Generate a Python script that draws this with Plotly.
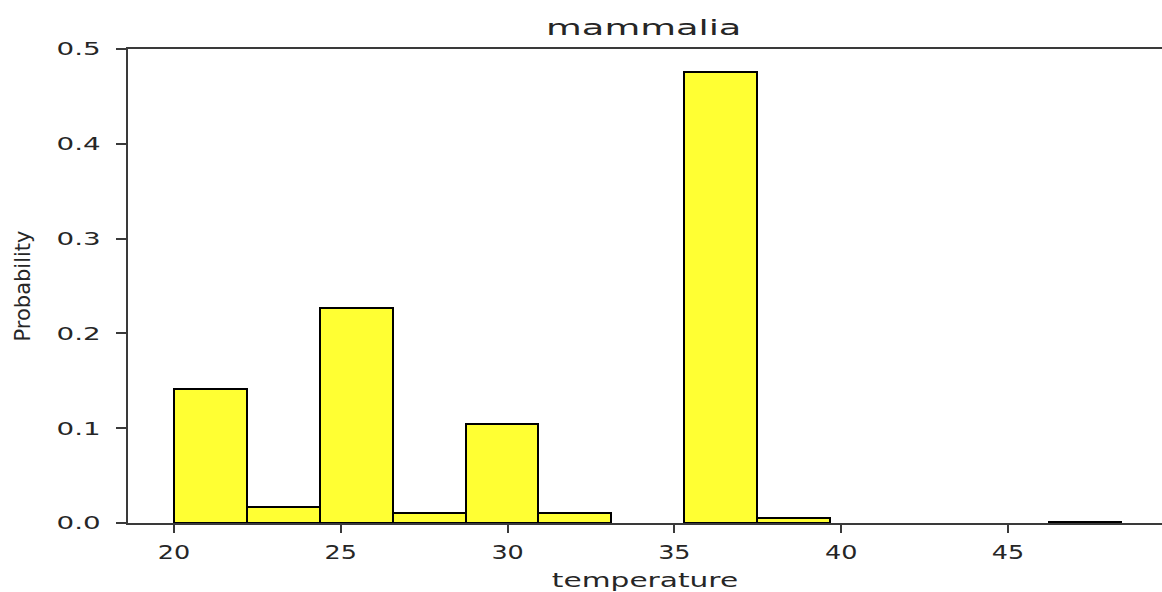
import plotly.graph_objects as go

# Histogram data (probability per bin)
bin_edges = [20.0, 22.185, 24.37, 26.555, 28.74, 30.925, 33.11, 35.295,
             37.48, 39.665, 41.85, 44.035, 46.22, 48.405]
probabilities = [0.1416, 0.0172, 0.2265, 0.0102, 0.1047, 0.0102, 0.0,
                 0.4757, 0.0053, 0.0, 0.0, 0.0, 0.0015]
x_ticks = [20, 25, 30, 35, 40, 45]
y_ticks = [0.0, 0.1, 0.2, 0.3, 0.4, 0.5]

centers = [(a + b) / 2 for a, b in zip(bin_edges[:-1], bin_edges[1:])]
widths = [b - a for a, b in zip(bin_edges[:-1], bin_edges[1:])]
# empty bins are not drawn
heights = [p if p > 0 else None for p in probabilities]

fig = go.Figure(go.Bar(
    x=centers, y=heights, width=widths,
    marker=dict(color="#FFFF33", line=dict(color="black", width=2)),
    hoverinfo="skip",
))

axis_color = "#3a3a3a"
fig.update_layout(
    width=1162, height=592,
    margin=dict(l=128, r=0, t=49, b=69),
    plot_bgcolor="white", paper_bgcolor="white",
    showlegend=False,
    font=dict(family="DejaVu Sans", color="#262626"),
    title=dict(text="mammalia", x=0.554, xanchor="center", xref="container",
               y=1 - 27 / 592, yanchor="middle", yref="container",
               font=dict(size=22, family="DejaVu Sans", color="#262626")),
    xaxis=dict(range=[18.62, 49.62], tickvals=x_ticks,
               ticktext=[str(v) for v in x_ticks],
               ticks="outside", ticklen=8, tickwidth=1.5, tickcolor=axis_color,
               showline=True, linecolor=axis_color, linewidth=1.5, mirror=True,
               showgrid=False, zeroline=False,
               tickfont=dict(size=19, color="#262626"),
               ticklabelstandoff=3,
               title=dict(text="temperature", standoff=12,
                          font=dict(size=19, color="#262626"))),
    yaxis=dict(range=[0, 0.5], tickvals=y_ticks,
               ticktext=["%.1f" % v for v in y_ticks],
               ticks="outside", ticklen=10, tickwidth=1.5, tickcolor=axis_color,
               showline=True, linecolor=axis_color, linewidth=1.5, mirror=False,
               showgrid=False, zeroline=False,
               tickfont=dict(size=18, color="#262626"),
               ticklabelstandoff=12,
               title=dict(text="Probability", standoff=36,
                          font=dict(size=21, color="#262626"))),
    bargap=0,
)

post = """
var gd = document.getElementById('{plot_id}');
function stretch(sel, f){
  gd.querySelectorAll(sel).forEach(function(t){
    try {
      var w = t.getComputedTextLength();
      t.setAttribute('textLength', (w * f).toFixed(1));
      t.setAttribute('lengthAdjust', 'spacingAndGlyphs');
    } catch(e) {}
  });
}
stretch('.gtitle', 1.67);
stretch('.xtitle', 1.56);
stretch('.xtick text', 1.34);
stretch('.ytick text', 1.54);
"""

fig.write_html("out.html", post_script=post, config={"displayModeBar": False})
